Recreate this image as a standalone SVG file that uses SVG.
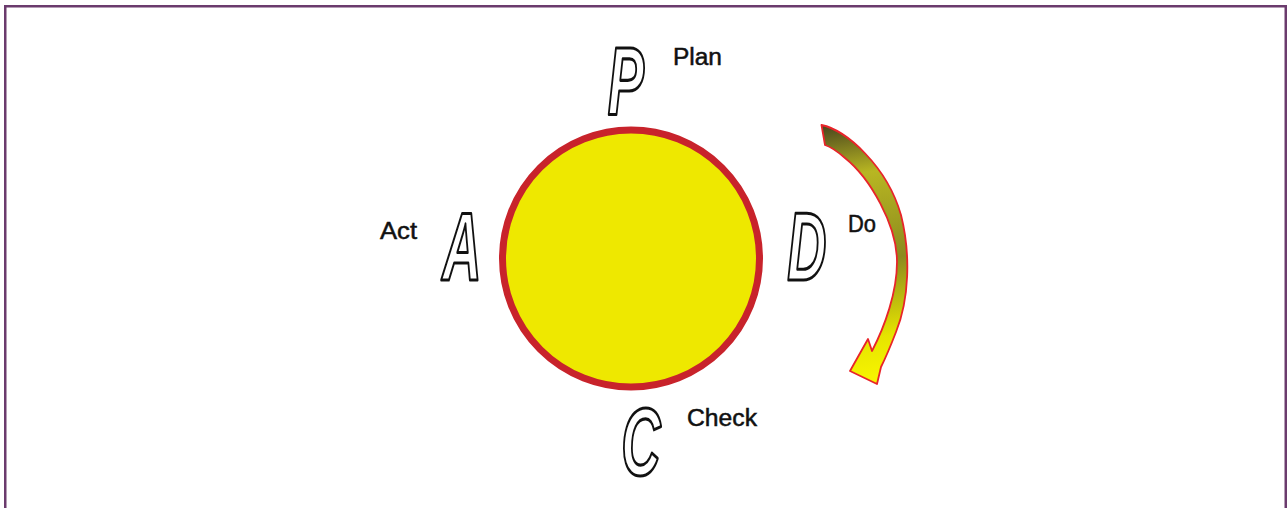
<svg xmlns="http://www.w3.org/2000/svg" width="1287" height="508" viewBox="0 0 1287 508">
  <defs>
    <linearGradient id="arrowGrad" gradientUnits="userSpaceOnUse" x1="822" y1="128" x2="862" y2="378">
      <stop offset="0" stop-color="#4e4a1e"/>
      <stop offset="0.2" stop-color="#b8b622"/>
      <stop offset="0.55" stop-color="#8c8a1e"/>
      <stop offset="0.85" stop-color="#e6e400"/>
      <stop offset="1" stop-color="#f6f300"/>
    </linearGradient>
  </defs>
  <style>
    .frame { fill: none; stroke: #6b3b6d; stroke-width: 2.5; }
    .big { font-family: "Liberation Sans", Arial, sans-serif; font-weight: bold; font-style: italic; font-size: 64px; fill: #ffffff; stroke: #111111; stroke-width: 2.6; stroke-linejoin: round; vector-effect: non-scaling-stroke; text-anchor: middle; }
    .label { font-family: "Liberation Sans", Arial, sans-serif; font-size: 23px; fill: #111111; stroke: #111111; stroke-width: 0.5; }
    .circle { fill: #eee800; stroke: #c8232b; stroke-width: 7; }
    .arrow { fill: url(#arrowGrad); stroke: #e8242a; stroke-width: 1.8; stroke-linejoin: round; }
  </style>

  <rect class="frame" x="5.25" y="6.25" width="1280.5" height="520"/>

  <g id="cycle">
    <circle class="circle" cx="631" cy="258.5" r="128.5"/>
  </g>

  <g id="plan">
    <text class="big" transform="translate(626,114) scale(0.85,1.5)">P</text>
    <text class="label" x="673" y="65" textLength="49" lengthAdjust="spacingAndGlyphs">Plan</text>
  </g>

  <g id="do">
    <text class="big" transform="translate(807,280) scale(0.85,1.5)">D</text>
    <text class="label" x="848" y="231.5" textLength="28" lengthAdjust="spacingAndGlyphs">Do</text>
  </g>

  <g id="check">
    <text class="big" transform="translate(641,475) scale(0.85,1.5)">C</text>
    <text class="label" x="687" y="425.5" textLength="70" lengthAdjust="spacingAndGlyphs">Check</text>
  </g>

  <g id="act">
    <text class="big" transform="translate(462,280) scale(0.85,1.5)">A</text>
    <text class="label" x="380" y="238.5" textLength="37" lengthAdjust="spacingAndGlyphs">Act</text>
  </g>

  <g id="connectors">
    <path class="arrow" d="M 821.5,125 C 846,130 887,166 901,215 C 911,255 909,300 896,332 C 891,345 886,357 881,367 L 877,384 L 850,371 L 868,339 L 872,351 C 885,326 897,292 897,262 C 897,225 870,178 845,158 C 837,151 831,147 825,145 Z"/>
  </g>
</svg>
